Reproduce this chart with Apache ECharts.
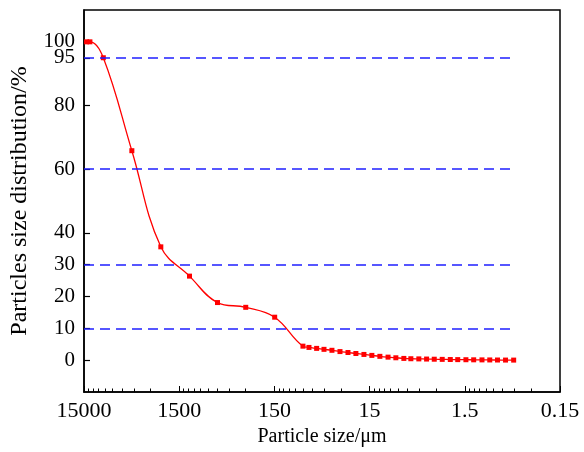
<!DOCTYPE html>
<html>
<head>
<meta charset="utf-8">
<script src="https://cdn.jsdelivr.net/npm/echarts@6/dist/echarts.min.js"></script>
<style>
  html, body { margin: 0; padding: 0; background: #fff; }
  #chart { width: 584px; height: 452px; }
</style>
</head>
<body>
<div id="chart"></div>
<script>
// particle size (µm) and cumulative distribution (%)
var sizes = [14100, 13000, 9400, 4715, 2340, 1170, 594, 300, 149,
  75.2, 65.0, 54.0, 45.2, 37.3, 30.7, 25.3, 20.9, 17.2, 14.2, 11.7, 9.6, 7.95, 6.55,
  5.53, 4.56, 3.78, 3.14, 2.59, 2.13, 1.78, 1.46, 1.21, 0.99, 0.82, 0.68, 0.56, 0.46];
var dist = [100, 100, 95, 65.8, 35.6, 26.4, 18.1, 16.6, 13.5,
  4.4, 4.0, 3.7, 3.4, 3.1, 2.7, 2.4, 2.1, 1.8, 1.5, 1.2, 0.95, 0.75, 0.55,
  0.45, 0.4, 0.35, 0.3, 0.25, 0.2, 0.17, 0.14, 0.11, 0.09, 0.07, 0.05, 0.03, 0.02];
var xTicks = [15000, 1500, 150, 15, 1.5, 0.15];
var yTicks = [0, 10, 20, 30, 40, 60, 80, 95, 100];
var refLines = [10, 30, 60, 95];

var lg = function (v) { return Math.log10(v); };
var xMin = lg(0.15), xMax = lg(15000);
var majorPos = xTicks.map(lg);
var minorPos = [];
for (var d = 0; d < 5; d++) {
  for (var k = 2; k <= 9; k++) minorPos.push(lg(0.15 * k * Math.pow(10, d)));
}
var seriesData = sizes.map(function (s, i) { return [lg(s), dist[i]]; });

var font = 'Liberation Serif';
var chart = echarts.init(document.getElementById('chart'));
chart.setOption({
  animation: false,
  backgroundColor: '#fff',
  grid: { left: 83, right: 24, top: 10, bottom: 60, show: true, borderColor: '#000', borderWidth: 1.5 },
  xAxis: [{
    type: 'value', min: xMin, max: xMax, inverse: true,
    name: 'Particle size/\u03bcm', nameLocation: 'middle', nameGap: 34,
    nameTextStyle: { fontFamily: font, fontSize: 20, color: '#000' },
    axisLine: { onZero: false, lineStyle: { color: '#000', width: 1.5 } },
    axisTick: { inside: true, length: 6, customValues: majorPos, lineStyle: { color: '#000', width: 1 } },
    axisLabel: {
      customValues: majorPos, margin: 8, fontFamily: font, fontSize: 22, color: '#000',
      formatter: function (v) { return String(parseFloat(Math.pow(10, v).toPrecision(2))); }
    },
    splitLine: { show: false }
  }, {
    type: 'value', min: xMin, max: xMax, inverse: true, position: 'bottom',
    axisLine: { show: false, onZero: false },
    axisTick: { inside: true, length: 3.5, customValues: minorPos, lineStyle: { color: '#000', width: 1 } },
    axisLabel: { show: false },
    splitLine: { show: false }
  }],
  yAxis: {
    type: 'value', min: -10, max: 110, interval: 5,
    name: 'Particles size distribution/%', nameLocation: 'middle', nameGap: 52,
    nameTextStyle: { fontFamily: font, fontSize: 24, color: '#000' },
    axisLine: { show: true, onZero: false, lineStyle: { color: '#000', width: 1.5 } },
    axisTick: { show: true, inside: true, length: 6, customValues: yTicks, lineStyle: { color: '#000', width: 1.2 } },
    axisLabel: {
      margin: 9, fontFamily: font, fontSize: 21, color: '#000', hideOverlap: false,
      showMinLabel: false, showMaxLabel: false,
      formatter: function (v) { return yTicks.indexOf(v) >= 0 ? String(v) : ''; }
    },
    splitLine: { show: false }
  },
  series: [{
    type: 'line',
    data: seriesData,
    smooth: 0.4,
    symbol: 'rect',
    symbolSize: 5,
    itemStyle: { color: '#ff0000' },
    lineStyle: { color: '#ff0000', width: 1.3 },
    z: 3,
    markLine: {
      silent: true,
      symbol: 'none',
      label: { show: false },
      lineStyle: { color: '#1f1fff', width: 1.5, type: [10, 6] },
      data: refLines.map(function (y) {
        return [{ coord: [xMax, y] }, { coord: [lg(0.49), y] }];
      })
    }
  }]
});
</script>
</body>
</html>
